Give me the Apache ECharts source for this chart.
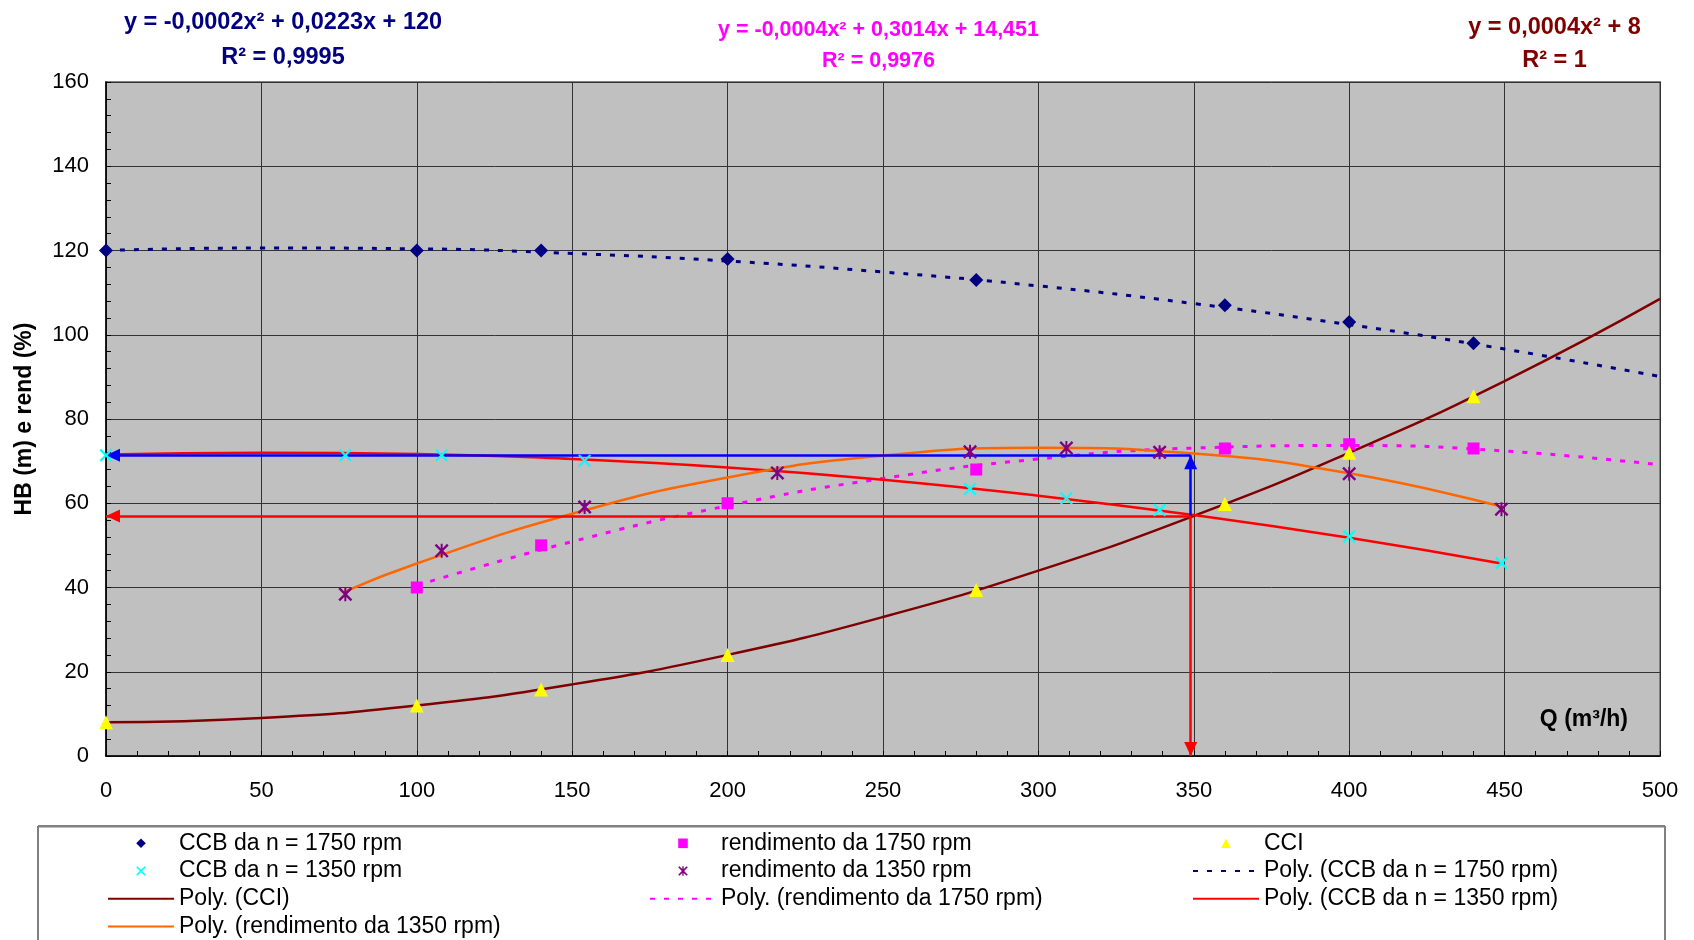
<!DOCTYPE html>
<html>
<head>
<meta charset="utf-8">
<script src="https://cdn.jsdelivr.net/npm/echarts@6/dist/echarts.min.js"></script>
<style>
html,body{margin:0;padding:0;background:#ffffff;}
#chart{width:1694px;height:940px;}
</style>
</head>
<body>
<div id="chart"></div>
<script>
// ---------------- data ----------------
const ccb1750Q = [0, 100, 140, 200, 280, 360, 400, 440];
const ccb1750H = [120, 120, 120, 118, 113, 107, 103, 98];

const rend1750Q = [100, 140, 200, 280, 360, 400, 440];
const rend1750 = [40, 50, 60, 68, 73, 74, 73];

const cciQ = [0, 100, 140, 200, 280, 360, 400, 440];
const cciH = [8, 12, 15.8, 24, 39.4, 59.8, 72, 85.4];

const ccb1350Q = [0, 77, 108, 154, 216, 278, 309, 339, 400, 449];
const ccb1350H = [71.4, 71.4, 71.4, 70.1, 67.2, 63.4, 61.2, 58.4, 52.1, 45.8];

const rend1350Q = [77, 108, 154, 216, 278, 309, 339, 400, 449];
const rend1350 = [38.4, 48.7, 59.1, 67.2, 72.2, 73.1, 72.1, 67.0, 58.6];

// trend curves, values
const polyCCB1750Q = [0, 50, 100, 150, 200, 250, 300, 350, 400, 450, 500];
const polyCCB1750 = [120.0, 120.6, 120.4, 119.3, 117.5, 114.9, 111.6, 107.4, 102.4, 96.6, 90.1];
const polyCCIQ = [0, 50, 100, 150, 200, 250, 300, 350, 400, 450, 500];
const polyCCI = [8, 9, 12, 17, 24, 33, 44, 57, 72, 89, 108.5];
const polyRend1750Q = [100, 150, 200, 250, 300, 350, 400, 450, 500];
const polyRend1750 = [40.5, 50.9, 59.4, 65.9, 70.5, 73.1, 73.7, 72.4, 69.1];
const polyCCB1350Q = [0, 50, 100, 150, 200, 250, 300, 350, 400, 449];
const polyCCB1350 = [71.6, 72.0, 71.7, 70.5, 68.5, 65.6, 61.8, 57.2, 51.8, 45.7];
const polyRend1350Q = [77, 100, 150, 200, 250, 300, 350, 400, 449];
const polyRend1350 = [39.1, 45.7, 57.5, 66.1, 71.3, 73.2, 71.8, 67.1, 59.2];

// operating point and shut-off head used by the arrows
const opQ = 349;
const opH = 57.0;
const shutoffH = 71.4;

const xTicks = [0, 50, 100, 150, 200, 250, 300, 350, 400, 450, 500];
const yTicks = [0, 20, 40, 60, 80, 100, 120, 140, 160];

const eqCCB1750 = ['y = -0,0002x² + 0,0223x + 120', 'R² = 0,9995'];
const eqRend1750 = ['y = -0,0004x² + 0,3014x + 14,451', 'R² = 0,9976'];
const eqCCI = ['y = 0,0004x² + 8', 'R² = 1'];

// ---------------- chart ----------------
const FONT = '"Liberation Sans", Arial, sans-serif';
const pairs = (xs, ys) => xs.map((x, i) => [x, ys[i]]);

const X_SYM = 'path://M0,1.2 L1.2,0 L5,3.8 L8.8,0 L10,1.2 L6.2,5 L10,8.8 L8.8,10 L5,6.2 L1.2,10 L0,8.8 L3.8,5 Z';
const STAR_SYM = 'path://M0,1.2 L1.2,0 L5,3.8 L8.8,0 L10,1.2 L6.2,5 L10,8.8 L8.8,10 L5,6.2 L1.2,10 L0,8.8 L3.8,5 Z M4.3,0 L5.7,0 L5.7,10 L4.3,10 Z';

// markers: drawn as line series with an invisible line, so that the legend
// icon is the marker centred in the legend slot
function markers(name, q, v, symbol, size, color) {
  return {
    name, type: 'line', data: pairs(q, v), symbol, symbolSize: size,
    showSymbol: true, showAllSymbol: true,
    itemStyle: { color }, lineStyle: { width: 0, opacity: 0 },
    z: 5, silent: true, emphasis: { disabled: true }
  };
}
function poly(name, q, v, color, width, dash) {
  return {
    name, type: 'line', data: pairs(q, v), smooth: 0.5,
    symbol: 'none', showSymbol: false, z: 2, silent: true,
    itemStyle: { color },
    lineStyle: { color, width, type: dash || 'solid', cap: 'butt' },
    emphasis: { disabled: true }
  };
}
function arrow(from, to, color) {
  return [
    { coord: from, symbol: 'none', lineStyle: { color, width: 2.5, type: 'solid' } },
    { coord: to, symbol: 'triangle', symbolSize: [13, 14], symbolOffset: [0, 7], itemStyle: { color } }
  ];
}

const legendText = { fontSize: 23, fontFamily: FONT, color: '#000', lineHeight: 24 };
const polyNames = new Set(['Poly. (CCI)', 'Poly. (rendimento da 1350 rpm)', 'Poly. (rendimento da 1750 rpm)',
                           'Poly. (CCB da n = 1750 rpm)', 'Poly. (CCB da n = 1350 rpm)']);
function legendCol(left, names) {
  return {
    orient: 'vertical', left, top: 831.3, padding: 0, itemGap: 3.7,
    itemWidth: 66, itemHeight: 12, selectedMode: false,
    textStyle: legendText,
    data: names.map(n => polyNames.has(n) ? { name: n, itemStyle: { color: 'rgba(0,0,0,0)', borderWidth: 0 } } : { name: n })
  };
}

function eqText(x, y, text, color, size) {
  return {
    type: 'text', x, y, silent: true,
    style: {
      text, fill: color, fontSize: size, fontWeight: 'bold', fontFamily: FONT,
      align: 'center', verticalAlign: 'middle', textAlign: 'center', textVerticalAlign: 'middle'
    }
  };
}

const option = {
  animation: false,
  backgroundColor: '#ffffff',
  grid: {
    left: 106, top: 82, width: 1554, height: 674,
    show: true, backgroundColor: '#C0C0C0', borderColor: '#808080', borderWidth: 2,
    containLabel: false, outerBoundsMode: 'none'
  },
  xAxis: {
    type: 'value', min: xTicks[0], max: xTicks[xTicks.length - 1], interval: 50,
    axisLine: { show: true, onZero: false, lineStyle: { color: '#000', width: 1.5 } },
    axisTick: { show: true, inside: true, length: 5, lineStyle: { color: '#000' } },
    minorTick: { show: true, splitNumber: 5, length: 5, lineStyle: { color: '#000' } },
    splitLine: { show: true, lineStyle: { color: '#333', width: 1 } },
    axisLabel: { fontSize: 22, fontFamily: FONT, color: '#000', margin: 24 }
  },
  yAxis: {
    type: 'value', min: yTicks[0], max: yTicks[yTicks.length - 1], interval: 20,
    name: 'HB (m) e rend (%)', nameLocation: 'middle', nameGap: 70,
    nameTextStyle: { fontSize: 23, fontWeight: 'bold', fontFamily: FONT, color: '#000' },
    axisLine: { show: true, onZero: false, lineStyle: { color: '#000', width: 1.5 } },
    axisTick: { show: true, inside: true, length: 5, lineStyle: { color: '#000' } },
    minorTick: { show: true, splitNumber: 5, length: 5, lineStyle: { color: '#000' } },
    splitLine: { show: true, lineStyle: { color: '#333', width: 1 } },
    axisLabel: { fontSize: 22, fontFamily: FONT, color: '#000', margin: 17 }
  },
  legend: [
    legendCol(107, ['CCB da n = 1750 rpm', 'CCB da n = 1350 rpm', 'Poly. (CCI)', 'Poly. (rendimento da 1350 rpm)']),
    legendCol(649, ['rendimento da 1750 rpm', 'rendimento da 1350 rpm', 'Poly. (rendimento da 1750 rpm)']),
    legendCol(1192, ['CCI', 'Poly. (CCB da n = 1750 rpm)', 'Poly. (CCB da n = 1350 rpm)'])
  ],
  series: [
    poly('Poly. (CCB da n = 1750 rpm)', polyCCB1750Q, polyCCB1750, '#000080', 3, [5, 9]),
    poly('Poly. (rendimento da 1750 rpm)', polyRend1750Q, polyRend1750, '#FF00FF', 3, [5, 9]),
    poly('Poly. (CCI)', polyCCIQ, polyCCI, '#800000', 2.5),
    poly('Poly. (CCB da n = 1350 rpm)', polyCCB1350Q, polyCCB1350, '#FF0000', 2.5),
    poly('Poly. (rendimento da 1350 rpm)', polyRend1350Q, polyRend1350, '#FF6600', 2.5),
    {
      name: 'arrows', type: 'line', data: [[opQ, opH]], symbol: 'none', showSymbol: false,
      lineStyle: { width: 0 }, silent: true, z: 4,
      markLine: {
        silent: true, animation: false, symbol: ['none', 'triangle'],
        label: { show: false }, emphasis: { disabled: true },
        data: [
          arrow([opQ, opH], [opQ, shutoffH], '#0000FF'),
          arrow([opQ, shutoffH], [0, shutoffH], '#0000FF'),
          arrow([opQ, opH], [0, opH], '#FF0000'),
          arrow([opQ, opH], [opQ, 0], '#FF0000')
        ]
      }
    },
    markers('CCB da n = 1750 rpm', ccb1750Q, ccb1750H, 'diamond', 14, '#000080'),
    markers('rendimento da 1750 rpm', rend1750Q, rend1750, 'rect', 12, '#FF00FF'),
    markers('CCI', cciQ, cciH, 'triangle', 14, '#FFFF00'),
    markers('CCB da n = 1350 rpm', ccb1350Q, ccb1350H, X_SYM, 13, '#00FFFF'),
    markers('rendimento da 1350 rpm', rend1350Q, rend1350, STAR_SYM, 14, '#800080')
  ],
  graphic: [
    { type: 'rect', silent: true, z: -10, shape: { x: 38, y: 826, width: 1627, height: 140 },
      style: { fill: 'none', stroke: '#000', lineWidth: 1 } },
    { type: 'line', silent: true, z: -9, shape: { x1: 38, y1: 826.5, x2: 1665, y2: 826.5 },
      style: { stroke: '#808080', lineWidth: 2 } },
    eqText(283, 23, eqCCB1750[0], '#000080', 23.5),
    eqText(283, 57.5, eqCCB1750[1], '#000080', 23.5),
    eqText(878.5, 30.5, eqRend1750[0], '#FF00FF', 21.5),
    eqText(878.5, 61.5, eqRend1750[1], '#FF00FF', 21.5),
    eqText(1554.5, 28, eqCCI[0], '#800000', 23.5),
    eqText(1554.5, 61, eqCCI[1], '#800000', 23.5),
    {
      type: 'text', x: 1628, y: 720, silent: true,
      style: { text: 'Q (m³/h)', fill: '#000', fontSize: 23, fontWeight: 'bold', fontFamily: FONT,
               align: 'right', verticalAlign: 'middle', textAlign: 'right', textVerticalAlign: 'middle' }
    }
  ]
};

const chart = echarts.init(document.getElementById('chart'), null, { renderer: 'canvas' });
chart.setOption(option);
</script>
</body>
</html>
